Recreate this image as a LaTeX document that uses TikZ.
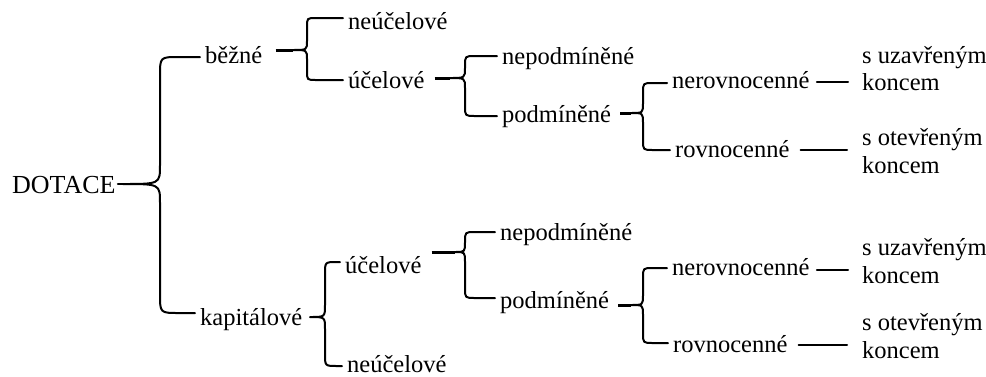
\documentclass[tikz,border=0pt]{standalone}
\usepackage{fontspec}
\setmainfont{Liberation Serif}
\begin{document}
\begin{tikzpicture}[x=1pt,y=-1pt,
  lbl/.style={inner sep=0pt, anchor=base west, font=\fontsize{24.5}{29}\selectfont},
  conn/.style={line width=2pt, line join=round, line cap=round},
  stub/.style={line width=3pt}]
\useasboundingbox (0,0) rectangle (986,376);
\newcommand\brc[8]{%
 \draw[conn] ([xshift=-5pt]#6.west |- 0,#4) -- (#3+#8,#4) .. controls (#3,#4) .. (#3,#4+#8)
   -- (#3,#2-#8) .. controls (#3,#2) .. (#1,#2) .. controls (#3,#2) .. (#3,#2+#8)
   -- (#3,#5-#8) .. controls (#3,#5) .. (#3+#8,#5) -- ([xshift=-5pt]#7.west |- 0,#5);}
% nodes
\node[lbl, font=\fontsize{26}{30}\selectfont] (dot) at (12,193) {DOTACE};
\node[lbl] (bez) at (205,63) {běžné};
\node[lbl] (kap) at (200,325) {kapitálové};
\node[lbl] (neu1) at (348,29) {neúčelové};
\node[lbl] (uce1) at (348,88) {účelové};
\node[lbl] (nep1) at (502,64) {nepodmíněné};
\node[lbl] (pod1) at (502,122) {podmíněné};
\node[lbl] (ner1) at (672,88) {nerovnocenné};
\node[lbl] (rov1) at (675,157) {rovnocenné};
\node[lbl] (su1a) at (862,63) {s uzavřeným};
\node[lbl] (su1b) at (862,90) {koncem};
\node[lbl] (so1a) at (862,145) {s otevřeným};
\node[lbl] (so1b) at (862,173) {koncem};
\node[lbl] (uce2) at (345,273) {účelové};
\node[lbl] (neu2) at (347,372) {neúčelové};
\node[lbl] (nep2) at (500,240) {nepodmíněné};
\node[lbl] (pod2) at (500,308) {podmíněné};
\node[lbl] (ner2) at (672,275) {nerovnocenné};
\node[lbl] (rov2) at (673,352) {rovnocenné};
\node[lbl] (su2a) at (862,255) {s uzavřeným};
\node[lbl] (su2b) at (862,283) {koncem};
\node[lbl] (so2a) at (862,330) {s otevřeným};
\node[lbl] (so2b) at (862,358) {koncem};
% braces
\draw[conn] ([xshift=2pt]dot.east |- 0,184) -- (123,184);
\brc{123}{184}{160}{57}{313}{bez}{kap}{19}
\draw[stub] ([xshift=13pt]bez.east |- 0,50) -- (293,50);
\brc{293}{50}{307}{18}{80}{neu1}{uce1}{9}
\brc{310}{317}{325}{262}{366}{uce2}{neu2}{12}
\draw[stub] ([xshift=10pt]uce1.east |- 0,78) -- (450,78);
\brc{450}{78}{465}{56}{116}{nep1}{pod1}{10}
\draw[stub] ([xshift=10pt]uce2.east |- 0,252) -- (455,252);
\brc{455}{252}{465}{232}{298}{nep2}{pod2}{10}
\draw[stub] ([xshift=9pt]pod1.east |- 0,113) -- (631,113);
\brc{631}{113}{643}{83}{150}{ner1}{rov1}{10}
\draw[stub] ([xshift=9pt]pod2.east |- 0,305) -- (631,305);
\brc{631}{305}{643}{268}{343}{ner2}{rov2}{10}
% lines
\draw[conn] ([xshift=7pt]ner1.east |- 0,82) -- ([xshift=-14pt]su1b.west |- 0,82);
\draw[conn] ([xshift=11pt]rov1.east |- 0,150) -- ([xshift=-15pt]so1a.west |- 0,150);
\draw[conn] ([xshift=7pt]ner2.east |- 0,270) -- ([xshift=-14pt]su2b.west |- 0,270);
\draw[conn] ([xshift=11pt]rov2.east |- 0,345) -- ([xshift=-15pt]so2a.west |- 0,345);
\end{tikzpicture}
\end{document}
